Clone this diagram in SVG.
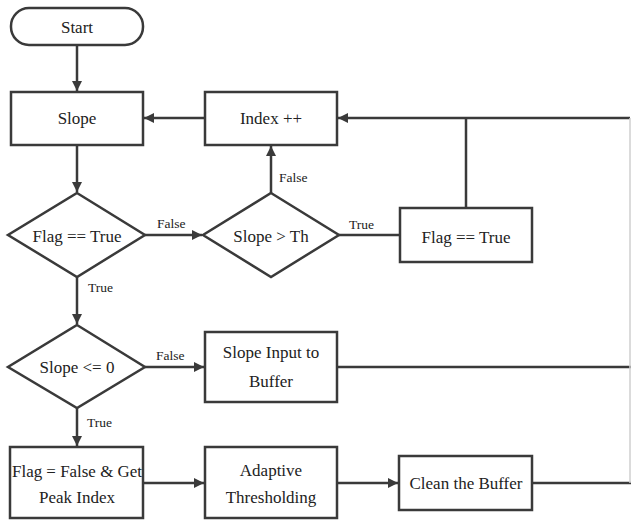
<svg xmlns="http://www.w3.org/2000/svg" width="631" height="520" viewBox="0 0 631 520">
<style>
.shape{fill:#ffffff;stroke:#3a3a3a;stroke-width:2.5}
.line{fill:none;stroke:#3a3a3a;stroke-width:2.5}
.arr{marker-end:url(#ah)}
text{font-family:"Liberation Serif",Tinos,"Times New Roman",Times,serif}
.t{font-size:17px;fill:#222;text-anchor:middle}
.lb{font-size:13.5px;fill:#222}
</style>
<defs>
<marker id="ah" viewBox="0 0 10 10" refX="10" refY="5" markerWidth="4.4" markerHeight="4" markerUnits="strokeWidth" orient="auto">
<path d="M0,0 L10,5 L0,10 z" fill="#3a3a3a"/>
</marker>
</defs>
<rect width="631" height="520" fill="#ffffff"/>
<g id="connectors">
<line class="line arr" x1="77" y1="45" x2="77" y2="91"/>
<line class="line arr" x1="205" y1="118" x2="144" y2="118"/>
<line class="line arr" x1="630" y1="118" x2="338" y2="118"/>
<line class="line" x1="466" y1="118" x2="466" y2="208"/>
<line class="line arr" x1="77" y1="145" x2="77" y2="192"/>
<line class="line arr" x1="145" y1="235" x2="202" y2="235"/>
<line class="line arr" x1="271" y1="193" x2="271" y2="146"/>
<line class="line" x1="339" y1="235" x2="400" y2="235"/>
<line class="line arr" x1="77" y1="277" x2="77" y2="324"/>
<line class="line arr" x1="145" y1="367" x2="204" y2="367"/>
<line class="line arr" x1="77" y1="408" x2="77" y2="446"/>
<line class="line" x1="337" y1="367" x2="631" y2="367"/>
<line class="line arr" x1="143" y1="483" x2="204" y2="483"/>
<line class="line arr" x1="337" y1="483" x2="398" y2="483"/>
<line class="line" x1="532" y1="483" x2="631" y2="483"/>
<line x1="630" y1="118" x2="630" y2="483" stroke="#cfcfcf" stroke-width="1.5"/>
<text class="lb" x="157" y="228">False</text>
<text class="lb" x="88" y="292">True</text>
<text class="lb" x="279" y="182">False</text>
<text class="lb" x="349" y="229">True</text>
<text class="lb" x="156" y="360">False</text>
<text class="lb" x="87" y="427">True</text>
</g>
<g id="start">
<rect class="shape" x="11" y="8" width="132" height="37" rx="18" ry="18"/>
<text class="t" x="77" y="33">Start</text>
</g>
<g id="slope">
<rect class="shape" x="11" y="92" width="132" height="53"/>
<text class="t" x="77" y="124">Slope</text>
</g>
<g id="index">
<rect class="shape" x="205" y="92" width="132" height="53"/>
<text class="t" x="271" y="124">Index ++</text>
</g>
<g id="flag-decision">
<polygon class="shape" points="77,193 145,235 77,277 8,235"/>
<text class="t" x="77" y="242">Flag == True</text>
</g>
<g id="slope-th">
<polygon class="shape" points="271,193 339,235 271,277 203,235"/>
<text class="t" x="271" y="242">Slope &gt; Th</text>
</g>
<g id="flag-true">
<rect class="shape" x="400" y="208" width="132" height="54"/>
<text class="t" x="466" y="243">Flag == True</text>
</g>
<g id="slope-le0">
<polygon class="shape" points="77,325 145,367 77,408 8,367"/>
<text class="t" x="77" y="373">Slope &lt;= 0</text>
</g>
<g id="slope-input">
<rect class="shape" x="205" y="332" width="132" height="70"/>
<text class="t" x="271" y="358">Slope Input to</text>
<text class="t" x="271" y="387">Buffer</text>
</g>
<g id="flag-false">
<rect class="shape" x="10" y="447" width="133" height="71"/>
<text class="t" x="77" y="477" textLength="130" lengthAdjust="spacingAndGlyphs">Flag = False &amp; Get</text>
<text class="t" x="77" y="503">Peak Index</text>
</g>
<g id="adaptive">
<rect class="shape" x="205" y="447" width="132" height="71"/>
<text class="t" x="271" y="476">Adaptive</text>
<text class="t" x="271" y="503">Thresholding</text>
</g>
<g id="clean">
<rect class="shape" x="399" y="456" width="133" height="54"/>
<text class="t" x="466" y="489">Clean the Buffer</text>
</g>
</svg>
